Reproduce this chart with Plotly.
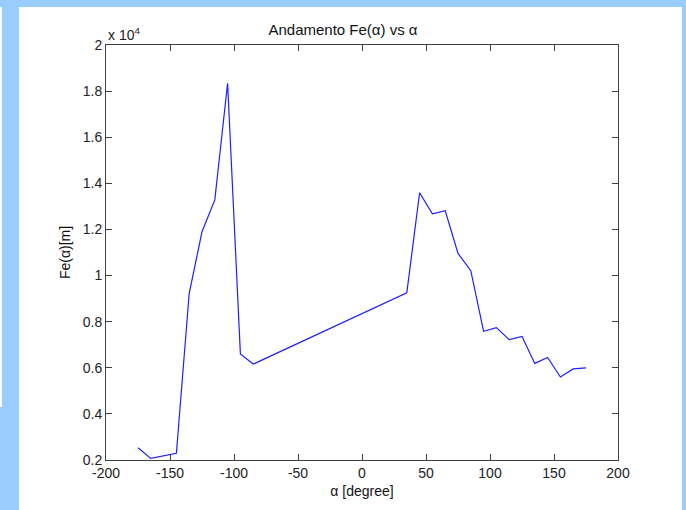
import plotly.graph_objects as go

alpha_deg = [-175, -165, -145, -135, -125, -115, -105, -95, -85,
             35, 45, 55, 65, 75, 85, 95, 105, 115, 125, 135, 145, 155, 165, 175]
fe_m = [2530, 2070, 2290, 9230, 11900, 13280, 18340, 6600, 6160,
        9250, 13590, 12680, 12810, 10960, 10210, 7580, 7740, 7220, 7360, 6190, 6450, 5600, 5950, 6000]

x_ticks = [-200, -150, -100, -50, 0, 50, 100, 150, 200]
x_ticktext = ["-200", "-150", "-100", "-50", "0", "50", "100", "150", "200"]
y_ticks = [2000, 4000, 6000, 8000, 10000, 12000, 14000, 16000, 18000, 20000]
y_ticktext = ["0.2", "0.4", "0.6", "0.8", "1", "1.2", "1.4", "1.6", "1.8", "2"]

W, H = 686, 510
L, R, T, B = 106, 68, 45, 50
pw, ph = W - L - R, H - T - B

def px(xp):
    return (xp - L) / pw

def py(yp):
    return (H - B - yp) / ph

fig = go.Figure()
fig.add_trace(go.Scatter(x=alpha_deg, y=fe_m, mode="lines",
                         line=dict(color="rgb(30,30,255)", width=1.2),
                         showlegend=False, hoverinfo="x+y"))

blue = "rgb(153,204,255)"
shapes = []
def rect(x0, y0, x1, y1):
    shapes.append(dict(type="rect", xref="paper", yref="paper",
                       x0=px(x0), x1=px(x1), y0=py(y1), y1=py(y0),
                       fillcolor=blue, line=dict(width=0), layer="above"))
rect(0, 0, 686, 7)
rect(2, 7, 19, 510)
rect(0, 407, 2, 510)
rect(682, 0, 686, 510)

axis_common = dict(showgrid=False, zeroline=False, showline=True, linecolor="#404040",
                   linewidth=1, mirror="ticks", ticks="inside", ticklen=6,
                   tickcolor="#404040", tickwidth=1,
                   tickfont=dict(family="Liberation Sans, Arial", size=14, color="#222"))

fig.update_layout(
    width=W, height=H,
    margin=dict(l=L, r=R, t=T, b=B),
    paper_bgcolor="white", plot_bgcolor="white",
    title=dict(text="Andamento Fe(α) vs α", x=px(362), xanchor="center",
               y=(H - 30) / H, yanchor="middle",
               font=dict(family="Liberation Sans, Arial", size=15, color="#111")),
    xaxis=dict(range=[-200, 200], tickvals=x_ticks, ticktext=x_ticktext,
               title=dict(text="α [degree]", standoff=6,
                          font=dict(family="Liberation Sans, Arial", size=14, color="#111")),
               **axis_common),
    yaxis=dict(range=[2000, 20000], tickvals=y_ticks, ticktext=y_ticktext,
               title=dict(text="Fe(α)[m]", standoff=8,
                          font=dict(family="Liberation Sans, Arial", size=14, color="#111")),
               **axis_common),
    shapes=shapes,
    annotations=[dict(text="x 10<sup>4</sup>", xref="paper", yref="paper",
                      x=0.0, y=1.0, xanchor="left", yanchor="bottom", showarrow=False,
                      font=dict(family="Liberation Sans, Arial", size=14, color="#222"))],
)

fig.write_html("out.html")
